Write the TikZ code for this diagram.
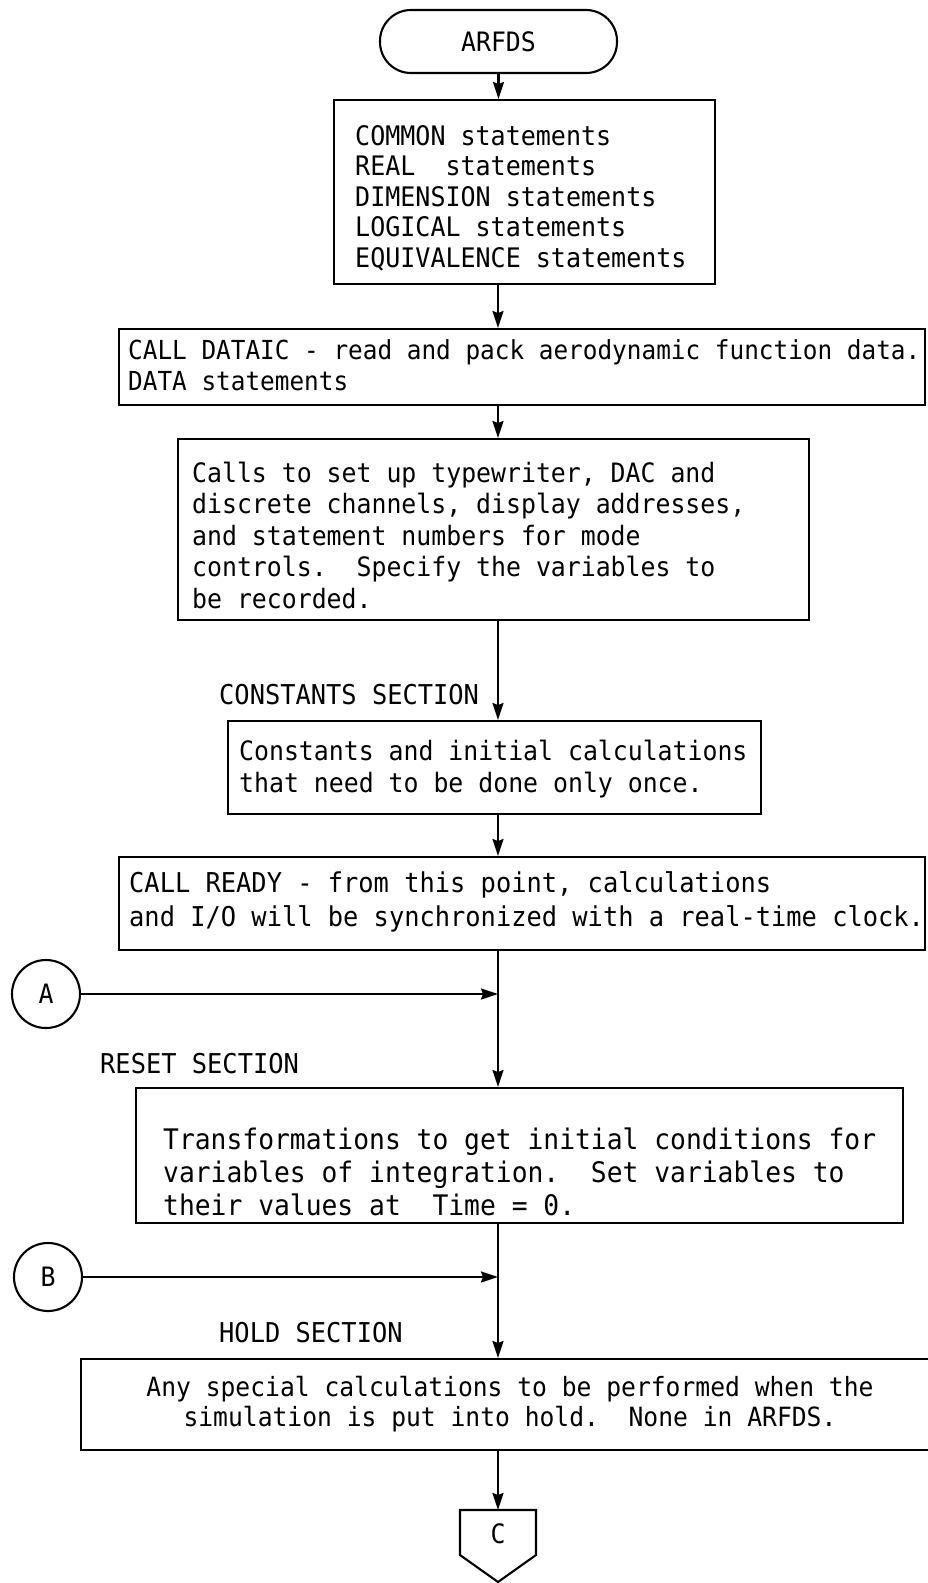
\documentclass[tikz,border=0pt]{standalone}
\usepackage{fontspec}
\setmonofont[FakeStretch=0.93]{DejaVu Sans Mono}
\usetikzlibrary{arrows.meta}
\begin{document}
\begin{tikzpicture}[x=1pt,y=-1pt,
  every node/.style={font=\ttfamily\fontsize{26.7}{30.3}\selectfont, inner sep=0pt},
  ft/.style n args={2}{font=\ttfamily\fontsize{#1}{#2}\selectfont},
  box/.style={draw, line width=2.1pt, anchor=north west},
  txt/.style={anchor=west, align=left},
  flow/.style={line width=2.1pt},
  arr/.style={flow, -{Stealth[length=17pt,width=11pt,inset=2pt]}},
  conn/.style={draw, circle, line width=2.1pt, minimum size=68pt}
]
\fill[white] (0,0) rectangle (928,1583);
\useasboundingbox (0,0) rectangle (928,1583);
\clip (0,0) rectangle (928,1583);
\coordinate (ax) at (498,0);

% terminal
\node[draw, line width=2.1pt, rounded corners=31pt, minimum width=237pt, minimum height=63pt] (term) at (498.5,41.5) {ARFDS};

% box 2
\node[box, minimum width=381pt, minimum height=184pt] (b2) at (333,99) {};
\node[txt, ft={26.9}{30.4}] (t2) at (355,198) {COMMON statements\\REAL~ statements\\DIMENSION statements\\LOGICAL statements\\EQUIVALENCE statements};

% box 3
\node[box, minimum width=806pt, minimum height=76pt] (b3) at (118,328) {};
\node[txt, ft={26.2}{31.3}] (t3) at (128,365) {CALL DATAIC - read and pack aerodynamic function data.\\DATA statements};

% box 4
\node[box, minimum width=631pt, minimum height=181pt] (b4) at (177,438) {};
\node[txt, ft={26.7}{31.5}] (t4) at (192,535) {Calls to set up typewriter, DAC and\\discrete channels, display addresses,\\and statement numbers for mode\\controls.~ Specify the variables to\\be recorded.};

% constants label + box 5
\node[anchor=west, ft={27.3}{30.3}] (l5) at (219,695) {CONSTANTS SECTION};
\node[box, minimum width=533pt, minimum height=93pt] (b5) at (227,720) {};
\node[txt, ft={26.7}{31.3}] (t5) at (239,769) {Constants and initial calculations\\that need to be done only once.};

% box 6
\node[box, minimum width=806pt, minimum height=93pt] (b6) at (118,856) {};
\node[txt, ft={27.3}{33.3}] (t6) at (129,902) {CALL READY - from this point, calculations\\and I/O will be synchronized with a real-time clock.};

% connector A
\node[conn] (A) at (46,994) {A};
\node[anchor=west, ft={27.3}{30.3}] (l7) at (100,1064) {RESET SECTION};

% box 7
\node[box, minimum width=767pt, minimum height=135pt] (b7) at (135,1087) {};
\node[txt, ft={28.3}{33}] (t7) at (163,1172) {Transformations to get initial conditions for\\variables of integration.~ Set variables to\\their values at~ Time = 0.};

% connector B
\node[conn] (B) at (48,1277) {B};
\node[anchor=west, ft={27.3}{30.3}] (l8) at (219,1333) {HOLD SECTION};

% box 8 (open to the right)
\node[box, minimum width=880pt, minimum height=91pt] (b8) at (80,1358) {};
\node[align=center, ft={26.5}{30.3}] (t8) at (510,1404) {Any special calculations to be performed when the\\simulation is put into hold.~ None in ARFDS.};

% off-page connector C
\coordinate (ctop) at (498,1510);
\draw[flow, line join=miter] (460,1510) -- (536,1510) -- (536,1555) -- (498,1582) -- (460,1555) -- cycle;
\node (C) at (498,1534) {C};

% connectors
\draw[arr] (term.south) -- (term.south |- b2.north);
\draw[arr] (b2.south -| ax) -- (b3.north -| ax);
\draw[arr] (b3.south -| ax) -- (b4.north -| ax);
\draw[arr] (b4.south -| ax) -- (b5.north -| ax);
\draw[arr] (b5.south -| ax) -- (b6.north -| ax);
\draw[arr] (b6.south -| ax) -- (b7.north -| ax);
\draw[arr] (A.east) -- (A.east -| ax);
\draw[arr] (b7.south -| ax) -- (b8.north -| ax);
\draw[arr] (B.east) -- (B.east -| ax);
\draw[arr] (b8.south -| ax) -- (ctop);
\end{tikzpicture}
\end{document}
